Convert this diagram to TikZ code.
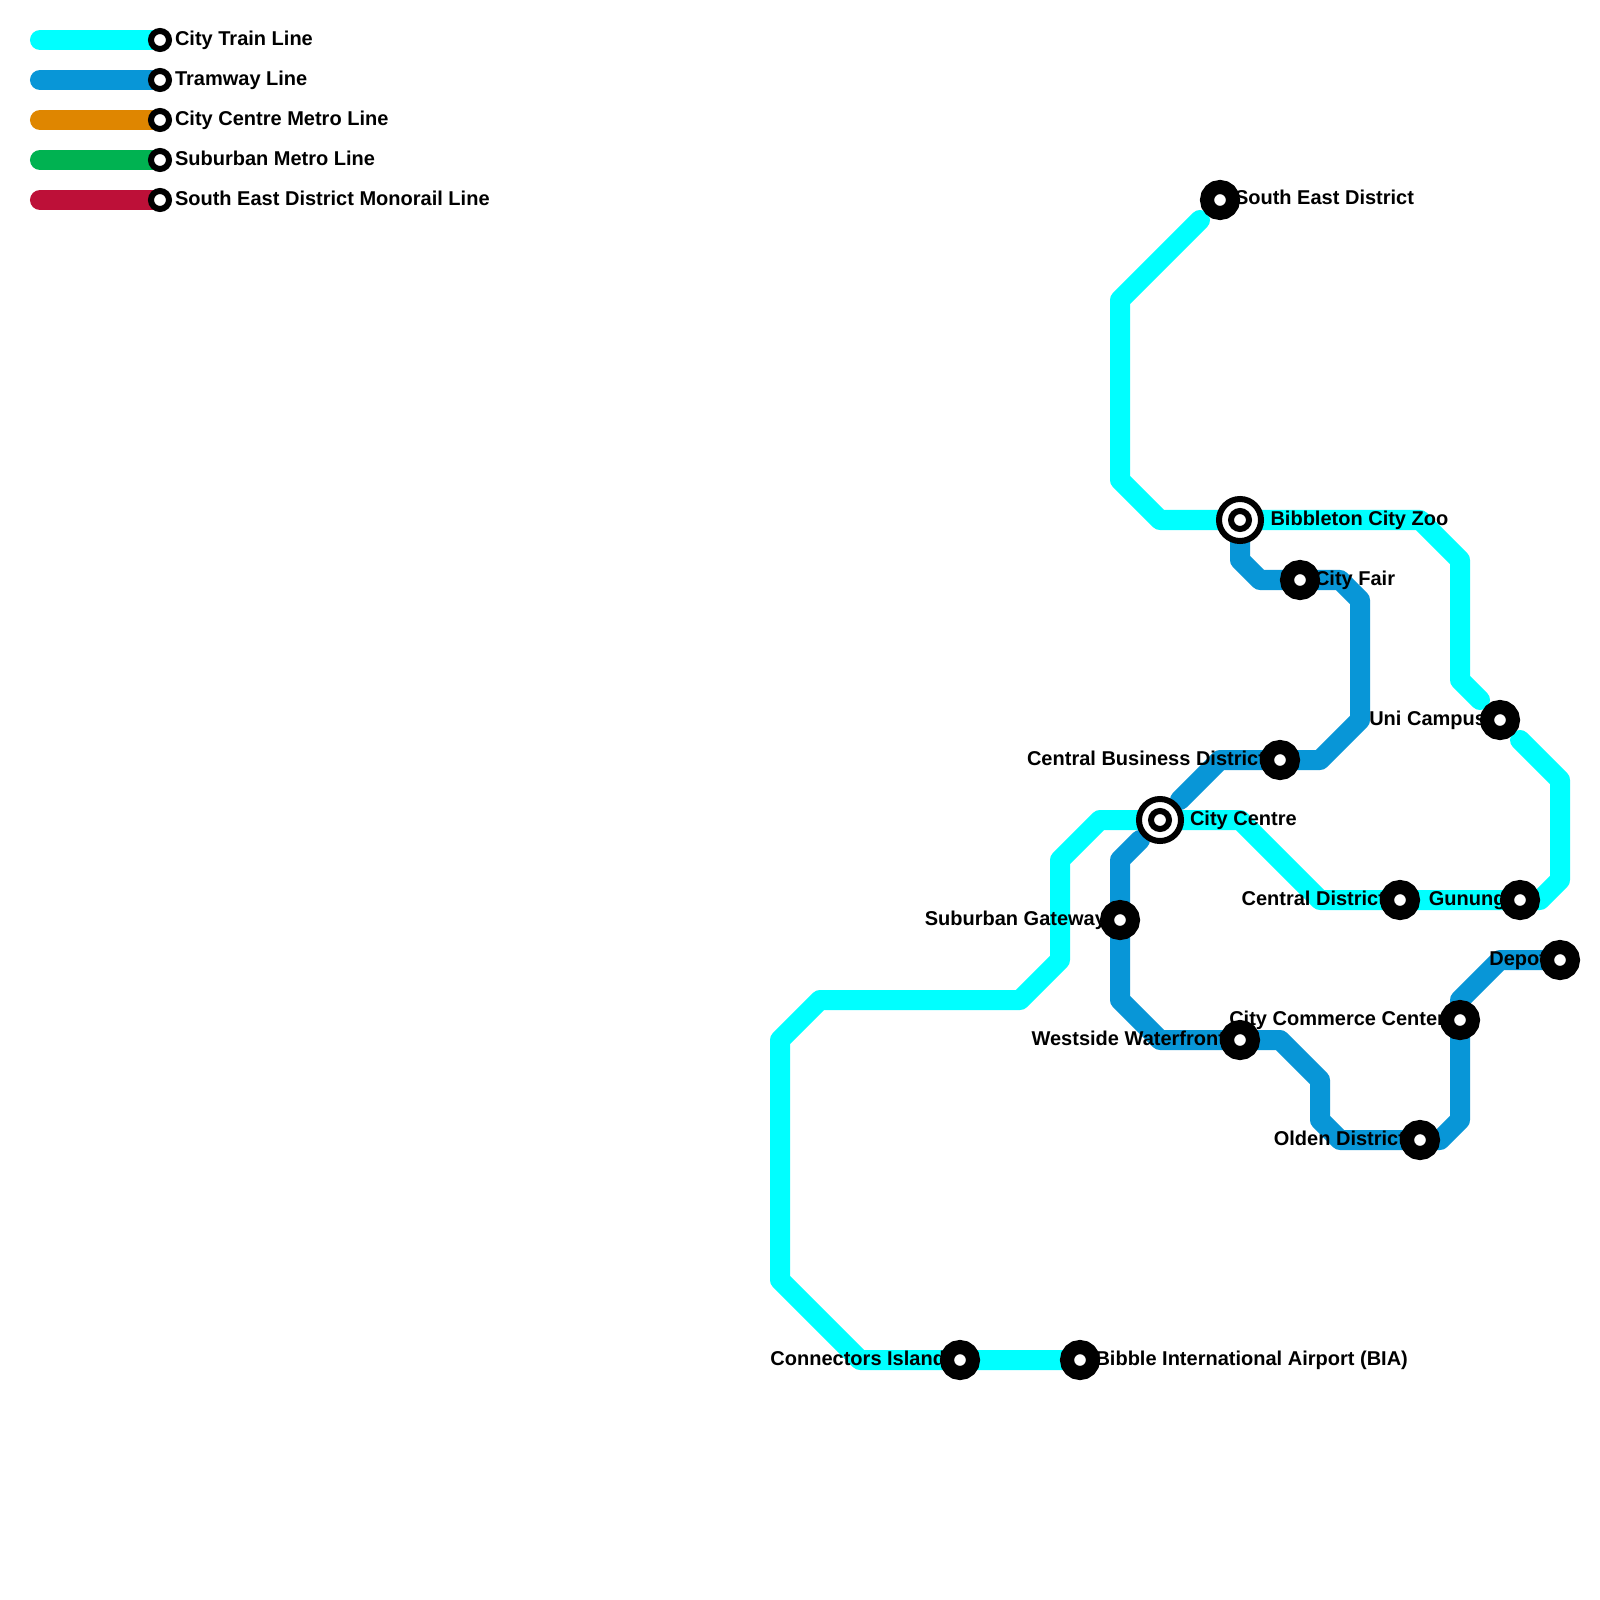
\documentclass[tikz,border=0pt]{standalone}
\usepackage{fontspec}
\setmainfont{Liberation Sans}
\pgfdeclarelayer{lines}
\pgfdeclarelayer{labels}
\pgfsetlayers{lines,labels,main}
\definecolor{cityc}{HTML}{00FFFF}
\definecolor{tramc}{HTML}{0896D7}
\definecolor{metroc}{HTML}{DF8600}
\definecolor{suburbc}{HTML}{00B251}
\definecolor{monoc}{HTML}{BD1038}
\tikzset{
  x=0.01cm,y=-0.01cm,
  route/.style={line width=0.2cm,line cap=round,line join=round},
  stn/.style={circle,draw=black,fill=white,line width=0.14cm,minimum size=0.26cm,inner sep=0pt,outer sep=0pt},
  ringo/.style={circle,draw=black,fill=white,line width=0.06cm,minimum size=0.42cm,inner sep=0pt,outer sep=0pt},
  ringi/.style={circle,draw=black,fill=white,line width=0.06cm,minimum size=0.18cm,inner sep=0pt,outer sep=0pt},
  keyst/.style={circle,draw=black,fill=white,line width=0.06cm,minimum size=0.18cm,inner sep=0pt,outer sep=0pt},
  lab/.style={inner sep=0pt,outer sep=0pt,font=\bfseries\fontsize{5.69pt}{7pt}\selectfont},
  labr/.style={lab,anchor=base west},
  labl/.style={lab,anchor=base east},
}
\begin{document}
\begin{tikzpicture}
\useasboundingbox (0,0) rectangle (1600,1600);
% legend
\node[keyst] (k1) at (160,40) {};
\node[keyst] (k2) at (160,80) {};
\node[keyst] (k3) at (160,120) {};
\node[keyst] (k4) at (160,160) {};
\node[keyst] (k5) at (160,200) {};
\coordinate (k1s) at (40,40);
\coordinate (k2s) at (40,80);
\coordinate (k3s) at (40,120);
\coordinate (k4s) at (40,160);
\coordinate (k5s) at (40,200);
% stations
\node[stn] (sed) at (1220,200) {};
\node[ringo] (zoo) at (1240,520) {};
\node[ringi] (zooi) at (1240,520) {};
\node[stn] (fair) at (1300,580) {};
\node[stn] (uni) at (1500,720) {};
\node[stn] (cbd) at (1280,760) {};
\node[ringo] (cen) at (1160,820) {};
\node[ringi] (ceni) at (1160,820) {};
\node[stn] (cdist) at (1400,900) {};
\node[stn] (gun) at (1520,900) {};
\node[stn] (sub) at (1120,920) {};
\node[stn] (depot) at (1560,960) {};
\node[stn] (comm) at (1460,1020) {};
\node[stn] (west) at (1240,1040) {};
\node[stn] (olden) at (1420,1140) {};
\node[stn] (conn) at (960,1360) {};
\node[stn] (bia) at (1080,1360) {};
% free ends of the split routes
\coordinate (sedend) at (1200,220);
\coordinate (uniup) at (1480,700);
\coordinate (unidn) at (1520,740);
\coordinate (cenup) at (1180,800);
\coordinate (cendn) at (1140,840);
\begin{pgfonlayer}{lines}
\fill[white] (0,0) rectangle (1600,1600);
\draw[route,cityc] (k1s) -- (k1.center);
\draw[route,tramc] (k2s) -- (k2.center);
\draw[route,metroc] (k3s) -- (k3.center);
\draw[route,suburbc] (k4s) -- (k4.center);
\draw[route,monoc] (k5s) -- (k5.center);
\draw[route,cityc] (sedend) -- (1120,300) -- (1120,480) -- (1160,520) -- (zoo.center) -- (1420,520) -- (1460,560) -- (1460,680) -- (uniup);
\draw[route,cityc] (unidn) -- (1560,780) -- (1560,880) -- (1540,900) -- (gun.center) -- (cdist.center) -- (1320,900) -- (1240,820) -- (cen.center) -- (1100,820) -- (1060,860) -- (1060,960) -- (1020,1000) -- (820,1000) -- (780,1040) -- (780,1280) -- (860,1360) -- (conn.center) -- (bia.center);
\draw[route,tramc] (zoo.center) -- (1240,560) -- (1260,580) -- (fair.center) -- (1340,580) -- (1360,600) -- (1360,720) -- (1320,760) -- (cbd.center) -- (1220,760) -- (cenup);
\draw[route,tramc] (cendn) -- (1120,860) -- (sub.center) -- (1120,1000) -- (1160,1040) -- (west.center) -- (1280,1040) -- (1320,1080) -- (1320,1120) -- (1340,1140) -- (olden.center) -- (1440,1140) -- (1460,1120) -- (comm.center) -- (1460,1000) -- (1500,960) -- (depot.center);
\end{pgfonlayer}
\begin{pgfonlayer}{labels}
\node[labr] (k1l) at (175,45.6) {City Train Line};
\node[labr] (k2l) at (175,85.6) {Tramway Line};
\node[labr] (k3l) at (175,125.6) {City Centre Metro Line};
\node[labr] (k4l) at (175,165.6) {Suburban Metro Line};
\node[labr] (k5l) at (175,205.6) {South East District Monorail Line};
\node[labr] (sedl) at (1235,205) {South East District};
\node[labr] (zool) at (1270.5,525) {Bibbleton City Zoo};
\node[labr] (fairl) at (1315,585) {City Fair};
\node[labl] (unil) at (1486,725) {Uni Campus};
\node[labl] (cbdl) at (1265,765) {Central Business District};
\node[labr] (cenl) at (1190,825) {City Centre};
\node[labl] (cdistl) at (1385,905) {Central District};
\node[labl] (gunl) at (1505.5,905) {Gunung};
\node[labl] (subl) at (1106,925) {Suburban Gateway};
\node[labl] (depotl) at (1546,965) {Depot};
\node[labl] (comml) at (1445,1025) {City Commerce Center};
\node[labl] (westl) at (1225,1045) {Westside Waterfront};
\node[labl] (oldenl) at (1405,1145) {Olden District};
\node[labl] (connl) at (945,1365) {Connectors Island};
\node[labr] (bial) at (1095.5,1365) {Bibble International Airport (BIA)};
\end{pgfonlayer}
\end{tikzpicture}
\end{document}
